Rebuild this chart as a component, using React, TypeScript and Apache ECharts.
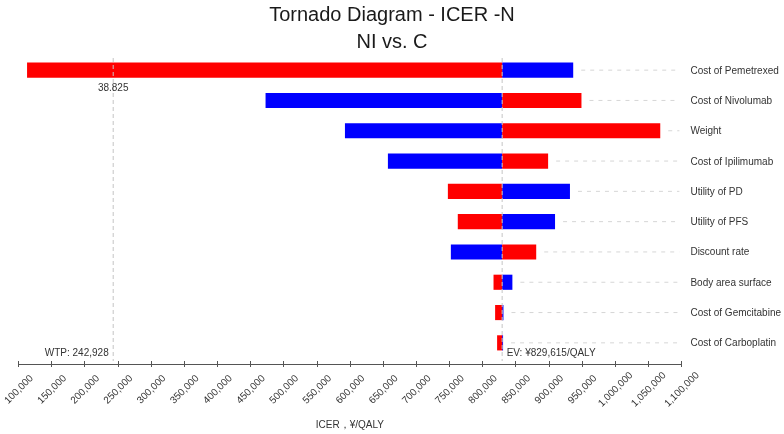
import React, { useEffect, useRef } from "react";
import * as echarts from "echarts";

// ---------- data ----------
const titleLines = ["Tornado Diagram - ICER -N", "NI vs. C"];
const categories = [
  "Cost of Pemetrexed",
  "Cost of Nivolumab",
  "Weight",
  "Cost of Ipilimumab",
  "Utility of PD",
  "Utility of PFS",
  "Discount rate",
  "Body area surface",
  "Cost of Gemcitabine",
  "Cost of Carboplatin",
];
// ICER when the parameter takes its "blue" bound
const blueValues = [936800, 472750, 592500, 657300, 931900, 909400, 752250, 845060, 831600, 831000];
// ICER when the parameter takes its "red" bound
const redValues = [113000, 949250, 1068100, 898950, 747750, 762700, 881000, 816600, 819000, 822000];
const EV = 829615;
const WTP = 242928;
const evLabel = "EV: ¥829,615/QALY";
const wtpLabel = "WTP: 242,928";
const thresholdNotes = [{ row: 0, value: WTP, text: "38.825" }];
const xMin = 100000;
const xMax = 1100000;
const xInterval = 50000;
const xName = "ICER，¥/QALY";

const FONT = "'Liberation Sans', Arial, Helvetica, sans-serif";
const RED = "#ff0000";
const BLUE = "#0000ff";

function barRender(color: string) {
  return (params: any, api: any) => {
    const v = api.value(0);
    const idx = api.value(1);
    const p = api.coord([v, idx]);
    const e = api.coord([EV, idx]);
    const h = api.size([0, 1])[1] * 0.5;
    return {
      type: "rect",
      shape: { x: Math.min(p[0], e[0]), y: p[1] - h / 2, width: Math.abs(p[0] - e[0]), height: h },
      style: { fill: color },
    };
  };
}

export default function App() {
  const ref = useRef<HTMLDivElement>(null);
  useEffect(() => {
    if (!ref.current) return;
    const chart = echarts.init(ref.current, undefined, { renderer: "svg" });

    const rowMax = categories.map((_, i) => [Math.max(blueValues[i], redValues[i], EV), i]);

    const option: any = {
      animation: false,
      textStyle: { fontFamily: FONT },
      title: {
        text: titleLines.join("\n"),
        left: "center",
        top: 0,
        padding: 0,
        textStyle: { fontSize: 20, fontWeight: "normal", color: "#1a1a1a", lineHeight: 27, fontFamily: FONT },
      },
      grid: { left: 16, right: 100, top: 55, bottom: 71, containLabel: false },
      xAxis: [
        {
          type: "value",
          min: xMin,
          max: xMax,
          interval: xInterval,
          position: "bottom",
          offset: 6,
          name: xName,
          nameLocation: "middle",
          nameGap: 60,
          nameTextStyle: { fontSize: 10, color: "#333", verticalAlign: "middle", fontFamily: FONT },
          axisLine: { show: true, lineStyle: { color: "#555", width: 1 } },
          axisTick: { show: true, length: 3, lineStyle: { color: "#555" } },
          axisLabel: {
            rotate: 45,
            align: "center",
            verticalAlign: "middle",
            margin: 25,
            fontSize: 10,
            color: "#333",
            fontFamily: FONT,
            formatter: (v: number) => v.toLocaleString("en-US"),
          },
          splitLine: { show: false },
        },
        {
          type: "value",
          min: xMin,
          max: xMax,
          interval: xInterval,
          position: "bottom",
          offset: 6,
          axisLine: { show: false },
          axisTick: { show: true, inside: true, length: 3, lineStyle: { color: "#555" } },
          axisLabel: { show: false },
          splitLine: { show: false },
        },
      ],
      yAxis: {
        type: "category",
        data: categories,
        inverse: true,
        position: "right",
        axisLine: { show: false },
        axisTick: { show: false },
        axisLabel: { fontSize: 10, color: "#333", margin: 9, fontFamily: FONT },
        splitLine: { show: false },
      },
      series: [
        {
          type: "custom",
          name: "guides",
          z: 1,
          data: rowMax,
          encode: { x: 0, y: 1 },
          renderItem: (params: any, api: any) => {
            const p = api.coord([api.value(0), api.value(1)]);
            const cs = params.coordSys;
            return {
              type: "line",
              shape: { x1: p[0] + 8, y1: p[1], x2: cs.x + cs.width - 2, y2: p[1] },
              style: { stroke: "#d6d6d6", lineWidth: 1, lineDash: [4, 5] },
            };
          },
        },
        {
          type: "custom",
          name: "blue",
          z: 2,
          data: blueValues.map((v, i) => [v, i]),
          encode: { x: 0, y: 1 },
          renderItem: barRender(BLUE),
        },
        {
          type: "custom",
          name: "red",
          z: 2,
          data: redValues.map((v, i) => [v, i]),
          encode: { x: 0, y: 1 },
          renderItem: barRender(RED),
        },
        {
          type: "custom",
          name: "refs",
          z: 3,
          data: [
            [WTP, 0, 0],
            [EV, 0, 1],
          ],
          encode: { x: 0, y: 1 },
          renderItem: (params: any, api: any) => {
            const x = api.coord([api.value(0), 0])[0];
            const cs = params.coordSys;
            const isEV = api.value(2) === 1;
            const yb = cs.y + cs.height;
            return {
              type: "group",
              children: [
                {
                  type: "line",
                  shape: { x1: x, y1: cs.y + 3, x2: x, y2: yb + 3 },
                  style: { stroke: "#c4c4c4", lineWidth: 1, lineDash: [4, 3] },
                },
                {
                  type: "text",
                  x: isEV ? x + 4.5 : x - 4.5,
                  y: yb - 5.5,
                  style: {
                    text: isEV ? evLabel : wtpLabel,
                    fill: "#333",
                    font: `10px ${FONT}`,
                    align: isEV ? "left" : "right",
                    verticalAlign: "middle",
                  },
                },
              ],
            };
          },
        },
        {
          type: "custom",
          name: "notes",
          z: 3,
          data: thresholdNotes.map((n) => [n.value, n.row, n.text]),
          encode: { x: 0, y: 1 },
          renderItem: (params: any, api: any) => {
            const idx = params.dataIndex;
            const n = thresholdNotes[idx];
            const p = api.coord([n.value, n.row]);
            const band = api.size([0, 1])[1];
            return {
              type: "text",
              x: p[0],
              y: p[1] + band * 0.57,
              style: {
                text: n.text,
                fill: "#333",
                font: `10px ${FONT}`,
                align: "center",
                verticalAlign: "middle",
              },
            };
          },
        },
      ],
    };
    chart.setOption(option);
    return () => chart.dispose();
  }, []);
  return <div ref={ref} style={{ position: "fixed", left: 0, top: 0, width: 784, height: 434 }} />;
}
